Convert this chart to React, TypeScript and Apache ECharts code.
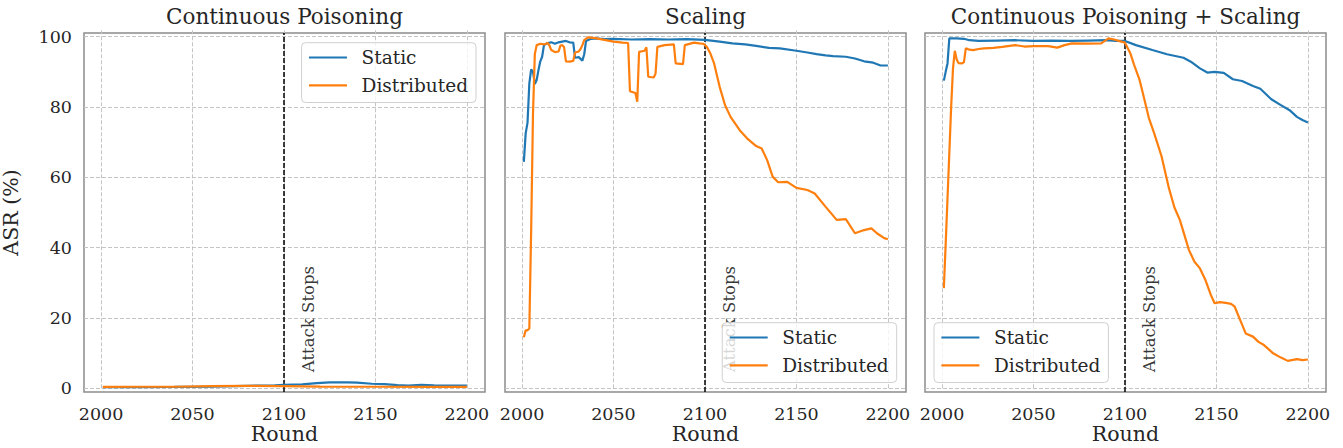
import React, { useEffect, useRef } from "react";
import * as echarts from "echarts";

// ---- Data ----
const PANEL_TITLES = ["Continuous Poisoning", "Scaling", "Continuous Poisoning + Scaling"];
const SERIES_NAMES = ["Static", "Distributed"];
const ROUND_TICKS = [2000, 2050, 2100, 2150, 2200];
const ASR_TICKS = [0, 20, 40, 60, 80, 100];
const ATTACK_STOP_ROUND = 2100;
const ATTACK_LABEL_AT = [2113.5, 4.6];

const cpStatic = [
  [2001, 0.3], [2020, 0.35], [2040, 0.4], [2060, 0.5], [2080, 0.7], [2095, 0.85], [2100, 1.0],
  [2110, 1.1], [2118, 1.5], [2125, 1.7], [2135, 1.7], [2140, 1.6], [2148, 1.3], [2155, 1.2],
  [2162, 0.9], [2168, 0.8], [2175, 0.95], [2182, 0.85], [2190, 0.8], [2200, 0.8],
];
const cpDistributed = [
  [2001, 0.4], [2020, 0.45], [2040, 0.45], [2060, 0.6], [2080, 0.7], [2100, 0.6],
  [2120, 0.5], [2150, 0.45], [2180, 0.4], [2200, 0.4],
];

const scStatic = [
  [2001, 64.4], [2002, 72.5], [2003, 75.5], [2004, 86.7], [2005, 90.7], [2006, 90], [2007, 86.5],
  [2008, 87.7], [2009, 90.5], [2010, 93], [2011, 94.3], [2012, 97.6], [2014, 98.2], [2016, 98.4],
  [2018, 98], [2020, 98.4], [2022, 98.6], [2024, 98.8], [2026, 98.4], [2028, 98.3], [2029, 94],
  [2031, 94.2], [2033, 93.2], [2034, 95], [2035, 98.8], [2037, 99.3], [2040, 99.5], [2045, 99.3],
  [2050, 99.4], [2060, 99.2], [2070, 99.3], [2080, 99.2], [2090, 99.3], [2100, 99.1], [2108, 98.6],
  [2115, 98.1], [2122, 97.8], [2128, 97.4], [2135, 96.8], [2141, 96.7], [2150, 96], [2156, 95.5],
  [2161, 95.05], [2166, 94.7], [2170, 94.5], [2177, 94.3], [2182, 93.8], [2187, 93], [2192, 92.6],
  [2196, 91.8], [2200, 91.8],
];
const scDistributed = [
  [2001, 14.5], [2002, 16.5], [2003, 16.5], [2004, 17], [2005, 45], [2006, 78], [2007, 95],
  [2008, 97.6], [2010, 98], [2012, 97.8], [2014, 98.2], [2015, 97.5], [2016, 96.2], [2018, 95.6],
  [2020, 95.8], [2021, 97.5], [2022, 97.6], [2023, 97], [2024, 93], [2026, 92.9], [2028, 93.1],
  [2029, 95.5], [2031, 95.8], [2032, 96.5], [2033, 97.6], [2034, 99], [2036, 99.8], [2040, 99.6],
  [2045, 99.1], [2050, 98.6], [2055, 98.3], [2058, 98.2], [2059, 84.5], [2062, 84], [2063, 81.5],
  [2064, 95.7], [2067, 96], [2068, 97], [2069, 88.6], [2072, 88.4], [2073, 89.5], [2074, 97.1],
  [2078, 97.6], [2083, 97.8], [2084, 92.4], [2088, 92.2], [2089, 97.6], [2094, 98.3], [2097, 98.1],
  [2099, 98], [2100, 97.6], [2101, 97.1], [2103, 95.2], [2105, 92.4], [2108, 85.8], [2111, 80.5],
  [2114, 77.2], [2119, 73.4], [2123, 71.1], [2128, 68.9], [2131, 68.2], [2134, 64.9], [2137, 60.2],
  [2140, 58.6], [2145, 58.7], [2150, 57], [2156, 56.4], [2160, 55.4], [2166, 51.6], [2172, 47.9],
  [2177, 48.1], [2182, 44.1], [2187, 45], [2191, 45.5], [2194, 44.1], [2198, 42.7], [2200, 42.4],
];

const cpsStatic = [
  [2001, 87.5], [2002, 90], [2003, 92.4], [2004, 99.5], [2008, 99.5], [2012, 99.4], [2015, 99],
  [2020, 98.8], [2030, 98.9], [2040, 99], [2050, 98.8], [2060, 98.9], [2070, 98.8], [2080, 98.9],
  [2090, 99], [2095, 98.8], [2100, 98.8], [2106, 97.6], [2115, 96.2], [2123, 95], [2132, 94],
  [2136, 92.9], [2141, 91], [2145, 89.8], [2149, 90], [2154, 89.7], [2159, 87.9], [2164, 87.4],
  [2170, 86], [2174, 85.2], [2180, 82.2], [2185, 80.6], [2190, 79.1], [2194, 77.2], [2197, 76.3],
  [2200, 75.6],
];
const cpsDistributed = [
  [2001, 28.5], [2002, 41], [2003, 54], [2004, 67], [2005, 80], [2006, 91], [2007, 96],
  [2008, 93.5], [2009, 92.5], [2011, 92.4], [2012, 92.8], [2013, 96.7], [2015, 96.3], [2017, 96.2],
  [2020, 96.5], [2023, 96.7], [2028, 96.8], [2033, 97.1], [2040, 97.6], [2045, 97.2], [2050, 97.3],
  [2058, 97.3], [2063, 96.9], [2067, 97.6], [2071, 98.1], [2080, 98], [2087, 98.1], [2091, 99.5],
  [2094, 99.2], [2098, 98.6], [2100, 98.3], [2103, 95.2], [2105, 92], [2108, 87.7], [2110, 83.5],
  [2113, 77], [2116, 72.5], [2120, 66], [2124, 57], [2127, 51.5], [2130, 47.9], [2135, 39.3],
  [2138, 36], [2141, 34.1], [2144, 30.8], [2147, 26.5], [2149, 24.2], [2152, 24.5], [2155, 24.3],
  [2158, 24], [2160, 23.2], [2163, 19.4], [2166, 15.6], [2170, 14.7], [2173, 13.2], [2176, 12.3],
  [2181, 9.95], [2185, 8.8], [2189, 7.8], [2194, 8.3], [2197, 8], [2200, 8.2],
];

const PANELS = [
  [cpStatic, cpDistributed],
  [scStatic, scDistributed],
  [cpsStatic, cpsDistributed],
];

const COLORS = ["#1f77b4", "#ff7f0e"];
const FONT = "DejaVu Serif";
const TEXT = "#262626";

function buildOption() {
  const gridLefts = [84, 505, 925];
  const gridW = 401;
  const gridTop = 33;
  const gridH = 359;

  const grid = gridLefts.map((l) => ({
    left: l, top: gridTop, width: gridW, height: gridH, outerBoundsMode: "none", containLabel: false,
    show: true, borderColor: "#8c8c8c", borderWidth: 1.5, backgroundColor: "#fff",
  }));

  const title = PANEL_TITLES.map((t, i) => ({
    text: t, left: gridLefts[i] + gridW / 2, top: 5, textAlign: "center", padding: 0,
    textStyle: { fontFamily: FONT, fontSize: 21.5, fontWeight: "normal", color: TEXT },
  }));

  const gridLine = { color: "#c4c4c4", type: [4, 2], width: 1 };

  const xAxis = gridLefts.map((_, i) => ({
    type: "value", gridIndex: i, min: 1990.7, max: 2209.9,
    axisLine: { show: false }, splitLine: { show: false },
    axisTick: { show: true, inside: true, length: gridH, customValues: ROUND_TICKS, lineStyle: gridLine },
    axisLabel: {
      customValues: ROUND_TICKS, formatter: (v: number) => String(v),
      fontFamily: FONT, fontSize: 17.5, color: TEXT, margin: 13,
    },
    name: "Round", nameLocation: "middle", nameGap: 31, nameMoveOverlap: false,
    nameTextStyle: { fontFamily: FONT, fontSize: 20.5, color: TEXT },
  }));

  const yAxis = gridLefts.map((_, i) => ({
    type: "value", gridIndex: i, min: -1.05, max: 101.05,
    axisLine: { show: false }, splitLine: { show: false },
    axisTick: { show: true, inside: true, length: gridW, customValues: ASR_TICKS, lineStyle: gridLine },
    axisLabel: { show: i === 0, customValues: ASR_TICKS, fontFamily: FONT, fontSize: 17.5, color: TEXT, margin: 12 },
    name: i === 0 ? "ASR (%)" : "", nameLocation: "middle", nameGap: 63,
    nameTextStyle: { fontFamily: FONT, fontSize: 20.5, color: TEXT },
  }));

  const series: any[] = [];
  PANELS.forEach((pair, i) => {
    pair.forEach((data, k) => {
      series.push({
        type: "line", name: SERIES_NAMES[k], xAxisIndex: i, yAxisIndex: i, data,
        symbol: "none", showSymbol: false, z: 3 + k,
        lineStyle: { width: 2.2, color: COLORS[k] }, itemStyle: { color: COLORS[k] },
        markLine: k === 0 ? {
          silent: true, symbol: "none", label: { show: false }, z: 2,
          lineStyle: { color: "#000", type: [5, 2], width: 1.5 },
          data: [{ xAxis: ATTACK_STOP_ROUND }],
        } : undefined,
      });
    });
    series.push({
      type: "scatter", xAxisIndex: i, yAxisIndex: i, data: [ATTACK_LABEL_AT], symbolSize: 0,
      silent: true, z: 2,
      label: {
        show: true, formatter: "Attack Stops", position: "inside", rotate: 90,
        align: "left", verticalAlign: "middle",
        fontFamily: FONT, fontSize: 16.5, color: "#000",
      },
    });
  });

  const legendBase = {
    data: SERIES_NAMES, orient: "vertical", icon: "rect", itemWidth: 38, itemHeight: 2.2, itemGap: 8.8,
    padding: [5.3, 8, 7.7, 7.4], backgroundColor: "rgba(255,255,255,0.8)",
    borderColor: "#d0d0d0", borderWidth: 1, borderRadius: 4, z: 10,
    textStyle: { fontFamily: FONT, fontSize: 18.5, color: TEXT, padding: [0, 0, 0, 9.6] },
  };
  const legend = [
    { ...legendBase, right: 1343 - 476, top: 42.7 },
    { ...legendBase, right: 1343 - 896.7, top: 322.7 },
    { ...legendBase, left: 934, top: 322.7 },
  ];

  return { animation: false, backgroundColor: "#fff", grid, title, xAxis, yAxis, series, legend };
}

export default function App() {
  const ref = useRef<HTMLDivElement>(null);
  useEffect(() => {
    if (!ref.current) return;
    const chart = echarts.init(ref.current, undefined, { renderer: "svg" });
    chart.setOption(buildOption() as any);
    return () => chart.dispose();
  }, []);
  return (
    <div
      ref={ref}
      style={{ position: "absolute", left: 0, top: 0, width: 1343, height: 448 }}
    />
  );
}
